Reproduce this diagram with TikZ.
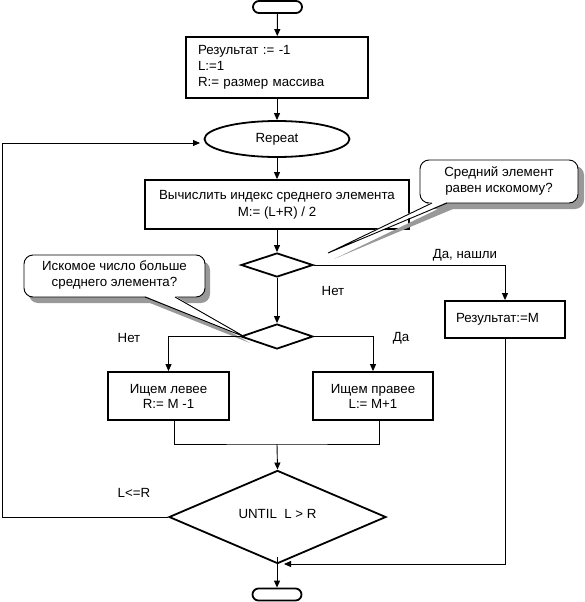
\documentclass[tikz,border=0pt]{standalone}
\usepackage{fontspec}
\setmainfont{Liberation Sans}
\usetikzlibrary{shapes.geometric,arrows.meta,calc}
\begin{document}
\begin{tikzpicture}[x=1pt,y=-1pt,
  font=\fontsize{13.3}{16}\selectfont,
  proc/.style={draw, line width=1.8pt, inner sep=0pt, align=center},
  term/.style={draw, line width=1.8pt, rounded corners=6pt, minimum width=49pt, minimum height=12pt, inner sep=0pt},
  dec/.style={draw, diamond, line width=1.8pt, inner sep=0pt},
  conn/.style={line width=0.9pt},
  arr/.style={conn, -{Triangle[length=7pt,width=6pt]}},
  lbl/.style={inner sep=0pt},
  shadowc/.style={fill=black!40, draw=none},
  callout/.style={draw, fill=white, line width=0.9pt, rounded corners=9pt}
]
\useasboundingbox (0,0) rectangle (585,602);

% nodes
\node[term] (start) at (277.5,7) {};
\node[proc, minimum width=182pt, minimum height=61pt, text width=158pt, align=left] (init) at (277,67.5) {Результат := -1\\L:=1\\R:= размер массива};
\node[draw, ellipse, line width=1.8pt, inner sep=0pt, minimum width=145pt, minimum height=36pt] (rep) at (277,139) {Repeat};
\node[proc, minimum width=264pt, minimum height=49pt, font=\fontsize{13.3}{17}\selectfont] (mid) at (277,204.5) {Вычислить индекс среднего элемента\\M:= (L+R) / 2};
\node[dec, minimum width=72pt, minimum height=24pt] (d1) at (277,265) {};
\node[dec, minimum width=72pt, minimum height=25pt] (d2) at (277,336.5) {};
\node[proc, minimum width=120pt, minimum height=37pt, text width=98pt, align=left] (res) at (505,319.5) {Результат:=M};
\node[proc, minimum width=121pt, minimum height=48pt, font=\fontsize{13.3}{15}\selectfont] (left) at (168.5,396) {Ищем левее\\R:= M -1};
\node[proc, minimum width=120pt, minimum height=48pt, font=\fontsize{13.3}{15}\selectfont] (right) at (373,396) {Ищем правее\\L:= M+1};
\node[dec, minimum width=217pt, minimum height=71pt] (d3) at (277.5,517) {\raisebox{6pt}{UNTIL\ \ L > R}};
\node[term] (stop) at (277,594.5) {};

% callout 1
\fill[shadowc, rounded corners=9pt, shift={(6,6)}] (420,160) rectangle (578,203);
\fill[shadowc, shift={(6,6)}] (432,203) -- (447,203) -- (328,253) -- cycle;
\draw[callout] (420,160) rectangle (578,203);
\fill[white] (432,202) -- (447,202) -- (328,253) -- cycle;
\draw[conn] (432,203) -- (328,253) -- (447,203);
\node[lbl, align=center] (c1) at (499,180.5) {Средний элемент\\равен искомому?};

% callout 2
\fill[shadowc, rounded corners=9pt, shift={(5,6)}] (24,255) rectangle (205,297);
\fill[shadowc, shift={(5,6)}] (145,297) -- (175,297) -- (245,337) -- cycle;
\draw[callout] (24,255) rectangle (205,297);
\fill[white] (145,296) -- (175,296) -- (245,337) -- cycle;
\draw[conn] (145,297) -- (245,337) -- (175,297);
\node[lbl, align=center] (c2) at (114.5,275) {Искомое число больше\\среднего элемента?};

% coordinates
\coordinate (j) at (277,444);
\coordinate (lb) at (174,421);
\coordinate (rb) at (379,421);
\coordinate (loopA) at (2,517);
\coordinate (loopB) at (2,143);
\coordinate (repIn) at (200,143);
\coordinate (d3out) at (277,557);
\coordinate (resDown) at (505,564);
\coordinate (merge) at (284,564);

% connectors
\draw[arr] (start) -- (init);
\draw[arr] (init) -- (rep);
\draw[arr] (rep) -- (mid);
\draw[arr] (mid) -- (d1);
\draw[arr] (d1.east) -| (res.north);
\draw[arr] (d1) -- (d2);
\draw[arr] (d2.west) -| (left.north);
\draw[arr] (d2.east) -| (right.north);
\draw[conn] (lb) |- (j) -| (rb);
\draw[arr] (j) -- (d3.north);
\draw[arr] (d3.west) -- (loopA) -- (loopB) -- (repIn);
\draw[arr] (d3out) -- (stop.north);
\draw[arr] (res.south) -- (resDown) -- (merge);

% labels
\node[lbl] (yes1) at (465,255) {Да, нашли};
\node[lbl] (no1) at (333,291) {Нет};
\node[lbl] (no2) at (129,338) {Нет};
\node[lbl] (yes2) at (401,338) {Да};
\node[lbl] (le) at (134,493) {L<=R};
\end{tikzpicture}
\end{document}
